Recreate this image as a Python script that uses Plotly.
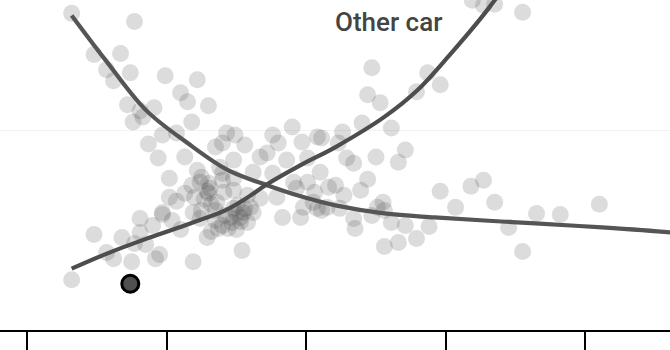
import plotly.graph_objects as go

# Other cars: scatter of observations
car_x = [3.2, 7.7, 4.8, 6.7, 5.7, 7.4, 6.2, 9.9, 12.2, 11.0, 11.5, 13.0, 7.2, 9.1, 8.1, 7.6, 8.3, 11.8,
         8.7, 9.7, 10.7, 9.4, 11.3, 13.5, 14.0, 14.3, 14.9, 15.6, 14.8, 12.2, 10.2, 12.5, 13.0, 14.0,
         16.2, 17.2, 16.7, 17.6, 18.0, 19.0, 19.7, 20.8, 21.1, 22.3, 22.6, 24.0, 26.1, 25.0, 22.9, 23.4,
         27.1, 26.6, 24.7, 24.4, 25.3, 28.7, 27.9, 29.6, 31.9, 32.7, 33.5, 35.5, 20.1, 18.6, 21.0, 17.6,
         22.1, 22.7, 23.9, 24.4, 19.3, 20.1, 20.6, 19.8, 20.8, 21.5, 19.6, 18.3, 17.9, 16.7, 15.8, 14.8,
         14.0, 15.3, 23.4, 25.1, 25.5, 25.6, 22.4, 23.5, 24.7, 26.1, 27.1, 28.8, 27.9, 26.6, 25.6, 29.6,
         30.7, 31.8, 32.7, 33.5, 34.5, 35.5, 36.5, 38.2, 41.0, 3.2, 4.8, 5.7, 6.2, 6.8, 7.7, 7.5, 8.1,
         8.1, 8.5, 9.2, 9.5, 9.7, 9.0, 10.2, 11.0, 11.9, 11.3, 10.7, 11.9, 12.4, 12.9, 13.2, 13.6, 13.7,
         14.4, 14.8, 15.8, 16.2, 15.4, 20.5, 21.1, 21.6, 19.1, 12.4, 13.1, 14.8, 9.7, 12.5, 13.5, 10.4,
         12.0, 13.0, 14.2, 14.7, 15.5, 15.1, 15.0,
         13.5, 14.0, 14.6, 15.3, 12.7, 13.2, 15.6, 11.8, 12.9, 14.1, 15.0, 16.0, 13.8]
car_y = [31.7, 30.9, 27.6, 27.7, 26.1, 25.8, 25.0, 25.5, 25.1, 23.8, 22.9, 22.5, 22.6, 22.3, 22.0, 20.9, 21.4, 20.9,
         18.7, 19.6, 19.8, 17.3, 17.4, 18.4, 18.8, 19.8, 19.6, 18.6, 17.1, 16.1, 15.3, 15.4, 14.8, 15.8,
         15.9, 17.8, 17.4, 19.6, 18.8, 20.4, 18.9, 19.4, 19.3, 18.8, 19.9, 20.8, 20.3, 17.4, 17.3, 16.8,
         18.1, 16.9, 26.3, 23.6, 22.8, 25.8, 23.9, 24.6, 33.0, 32.5, 32.6, 31.8, 17.3, 17.1, 15.9, 15.8,
         14.6, 13.6, 14.1, 15.2, 14.3, 14.9, 13.9, 12.4, 12.3, 12.4, 11.4, 11.4, 13.4, 13.3, 13.6, 14.1,
         15.1, 11.4, 11.3, 12.4, 12.9, 12.1, 12.3, 10.3, 11.6, 10.9, 10.6, 10.5, 9.3, 8.9, 8.5, 14.0,
         12.4, 14.5, 15.1, 12.9, 10.4, 8.0, 11.8, 11.7, 12.7, 5.2, 9.7, 7.9, 7.3, 9.4, 8.8, 7.0, 11.3,
         9.9, 8.7, 7.3, 7.7, 11.7, 10.6, 13.4, 10.2, 7.0, 13.8, 13.0, 11.9, 11.3, 9.4, 10.0, 12.9, 10.3,
         10.3, 12.3, 10.9, 11.9, 8.1, 12.9, 12.1, 14.4, 14.9, 14.9, 14.3, 15.3, 11.9, 12.1, 12.1, 11.1,
         13.4, 13.8, 11.6, 10.9, 11.9, 12.6, 11.8,
         11.1, 10.6, 11.4, 11.0, 13.2, 12.7, 12.3, 14.6, 14.0, 13.9, 10.2, 12.4, 16.4]

# Fitted trend lines
fit_down_x = [3.2, 5.6, 8.5, 11.5, 14.4, 17.2, 19.6, 22.1, 25.6, 29.2, 36.4, 41.2, 46.1, 47.5]
fit_down_y = [31.5, 27.1, 22.1, 18.8, 16.1, 14.6, 13.5, 12.6, 11.8, 11.4, 10.8, 10.4, 9.9, 9.7]
fit_up_x = [3.2, 5.9, 8.8, 11.7, 14.2, 15.6, 17.2, 19.6, 22.1, 25.6, 28.0, 30.3, 32.5, 33.5, 34.6]
fit_up_y = [6.3, 7.9, 9.4, 10.8, 12.1, 13.2, 14.7, 16.6, 18.4, 21.4, 24.1, 27.6, 31.2, 33.0, 35.0]

# Highlighted car
this_x = [7.4]
this_y = [4.8]

label_text = "Other car"
label_x = 21.9
label_y = 30.8

x_ticks = [0, 10, 20, 30, 40]
y_grid = [0, 20]

fig = go.Figure()
fig.add_trace(go.Scatter(
    x=car_x, y=car_y, mode="markers",
    marker=dict(size=17, color="rgba(60,60,60,0.18)", line=dict(width=0)),
    hoverinfo="skip", showlegend=False))
fig.add_trace(go.Scatter(
    x=fit_down_x, y=fit_down_y, mode="lines",
    line=dict(color="#555555", width=4.2, shape="spline", smoothing=1),
    hoverinfo="skip", showlegend=False))
fig.add_trace(go.Scatter(
    x=fit_up_x, y=fit_up_y, mode="lines",
    line=dict(color="#4d4d4d", width=4.2, shape="spline", smoothing=1),
    hoverinfo="skip", showlegend=False))
fig.add_trace(go.Scatter(
    x=this_x, y=this_y, mode="markers",
    marker=dict(size=17, color="#505050", line=dict(width=3, color="#000000")),
    hoverinfo="skip", showlegend=False, cliponaxis=False))

fig.add_annotation(x=label_x, y=label_y, text=label_text, showarrow=False,
                   xanchor="left", yanchor="middle",
                   font=dict(family="Roboto", size=26, color="#444444", weight=500))

fig.update_layout(
    width=670, height=350,
    margin=dict(l=0, r=0, t=0, b=20, pad=0),
    paper_bgcolor="white", plot_bgcolor="white",
    xaxis=dict(range=[-1.934, 46.06], tickvals=x_ticks, showticklabels=False,
               ticks="outside", ticklen=18, tickwidth=2, tickcolor="#000000",
               showline=True, linecolor="#000000", linewidth=2,
               showgrid=False, zeroline=False, fixedrange=True),
    yaxis=dict(range=[0.2, 33.03], tickvals=y_grid, showticklabels=False,
               showgrid=True, gridcolor="rgba(0,0,0,0.05)", gridwidth=1,
               zeroline=False, showline=False, ticks="", fixedrange=True),
)

fig.write_html("out.html")
